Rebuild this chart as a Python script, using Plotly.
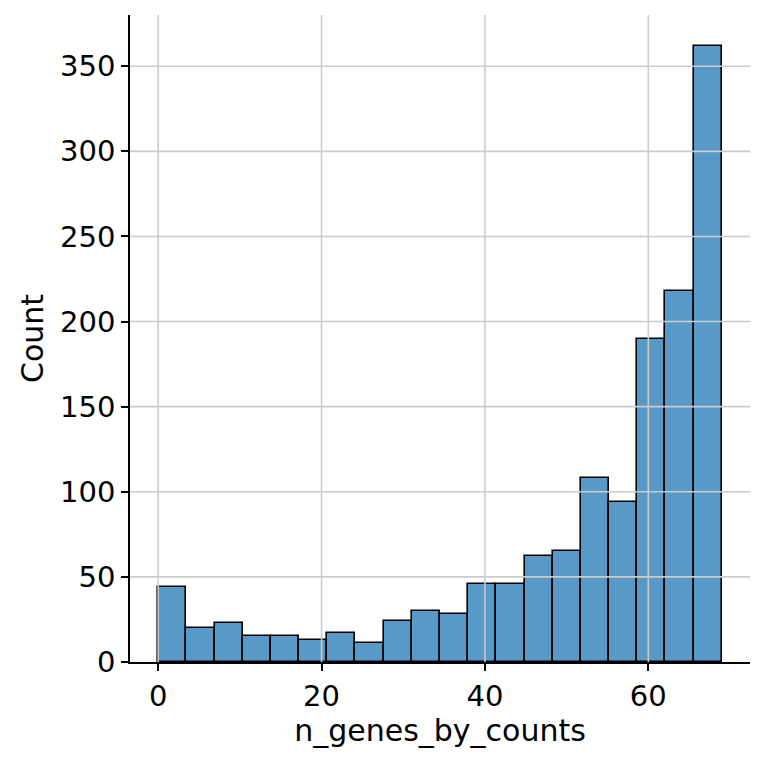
import numpy as np
import plotly.graph_objects as go

# histogram of n_genes_by_counts, 20 bins over [0, 69]
bin_start = 0.0
bin_end = 69.0
counts = [44, 20, 23, 15, 15, 13, 17, 11, 24, 30, 28, 46, 46, 62, 65, 108, 94, 190, 218, 362]
x_ticks = [0, 20, 40, 60]
y_ticks = [0, 50, 100, 150, 200, 250, 300, 350]

edges = np.linspace(bin_start, bin_end, len(counts) + 1)
centers = (edges[:-1] + edges[1:]) / 2
width = edges[1] - edges[0]

GRID = "#cccccc"
TICK_FONT = 29
TITLE_FONT = 30

fig = go.Figure()
fig.add_trace(
    go.Bar(
        x=centers,
        y=counts,
        width=width,
        marker=dict(color="rgb(87,153,199)", line=dict(color="black", width=1.6)),
    )
)

# grid drawn on top of the bars, like the original
for xv in x_ticks:
    fig.add_shape(type="line", xref="x", yref="paper", x0=xv, x1=xv, y0=0, y1=1,
                  line=dict(color=GRID, width=1.6), layer="above")
for yv in y_ticks[1:]:
    fig.add_shape(type="line", xref="paper", yref="y", x0=0, x1=1, y0=yv, y1=yv,
                  line=dict(color=GRID, width=1.6), layer="above")

span = bin_end - bin_start
axis_style = dict(
    showgrid=False,
    showline=True,
    linecolor="black",
    linewidth=1.6,
    ticks="outside",
    ticklen=7,
    tickwidth=1.6,
    tickcolor="black",
    zeroline=False,
    tickfont=dict(size=TICK_FONT),
)
fig.update_layout(
    width=757,
    height=757,
    margin=dict(l=122, r=15, t=7, b=103),
    plot_bgcolor="white",
    paper_bgcolor="white",
    font=dict(family="DejaVu Sans", size=TICK_FONT, color="black"),
    showlegend=False,
    bargap=0,
    xaxis=dict(
        range=[bin_start - 0.05 * span, bin_end + 0.05 * span],
        tickvals=x_ticks,
        title=dict(text="n_genes_by_counts", font=dict(size=TITLE_FONT), standoff=8),
        **axis_style,
    ),
    yaxis=dict(
        range=[0, max(counts) * 1.05],
        tickvals=y_ticks,
        title=dict(text="Count", font=dict(size=TITLE_FONT), standoff=8),
        **axis_style,
    ),
)

fig.write_html("out.html")
